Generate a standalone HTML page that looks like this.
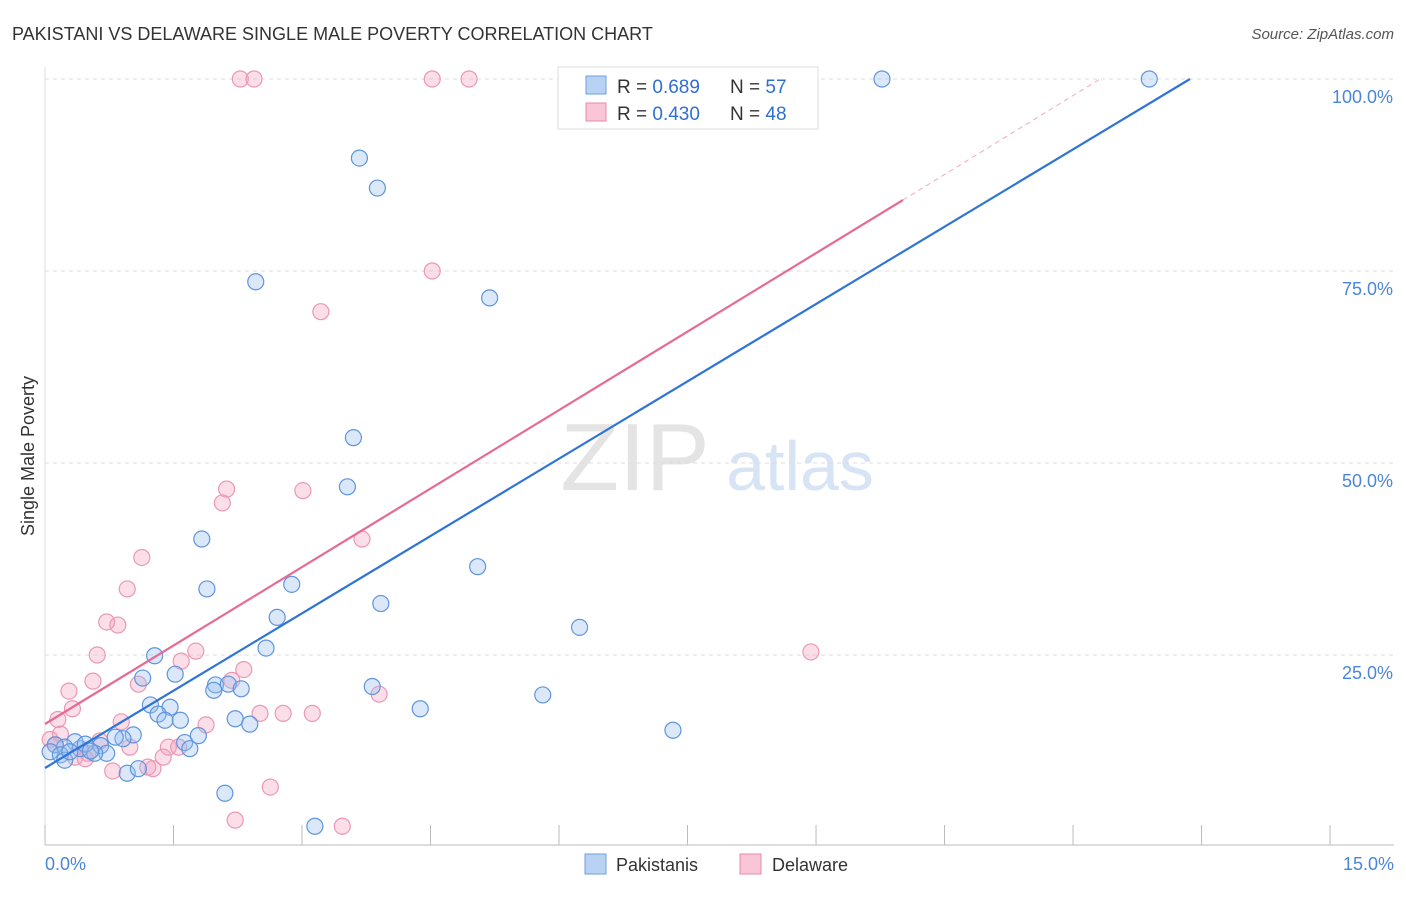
<!DOCTYPE html>
<html><head><meta charset="utf-8">
<style>
body{margin:0;background:#fff;font-family:"Liberation Sans",sans-serif;}
svg text{font-family:"Liberation Sans",sans-serif;}
</style></head>
<body>
<svg id="chart" width="1406" height="892" xmlns="http://www.w3.org/2000/svg">
<text x="12" y="40" font-size="18" fill="#333">PAKISTANI VS DELAWARE SINGLE MALE POVERTY CORRELATION CHART</text>
<text x="1394" y="39" font-size="15" fill="#555" font-style="italic" text-anchor="end">Source: ZipAtlas.com</text>
<text x="635" y="490" font-size="96" fill="#e4e4e4" font-family="Liberation Serif" text-anchor="middle">ZIP</text>
<text x="800" y="490" font-size="70" fill="#d6e4f5" text-anchor="middle">atlas</text>
<text x="34" y="456" font-size="18" fill="#333" text-anchor="middle" transform="rotate(-90 34 456)">Single Male Poverty</text>
<g id="grid"></g><g id="axes"></g><g id="pts"></g><g id="lines"></g>
<g>
<rect x="558" y="67" width="260" height="62" fill="#fff" stroke="#ddd"/>
<rect x="586" y="76" width="20" height="18" fill="#b8d2f4" stroke="#6fa0de"/>
<rect x="586" y="103" width="20" height="18" fill="#f8c6d6" stroke="#e98aa8"/>
<text x="617" y="93" font-size="19" fill="#333">R = <tspan fill="#2f6fd1">0.689</tspan></text>
<text x="730" y="93" font-size="19" fill="#333">N = <tspan fill="#2f6fd1">57</tspan></text>
<text x="617" y="120" font-size="19" fill="#333">R = <tspan fill="#2f6fd1">0.430</tspan></text>
<text x="730" y="120" font-size="19" fill="#333">N = <tspan fill="#2f6fd1">48</tspan></text>
</g>
<g>
<rect x="585" y="854" width="21" height="20" fill="#b8d2f4" stroke="#6fa0de"/>
<text x="616" y="871" font-size="18" fill="#333">Pakistanis</text>
<rect x="740" y="854" width="21" height="20" fill="#f8c6d6" stroke="#e98aa8"/>
<text x="772" y="871" font-size="18" fill="#333">Delaware</text>
</g>
</svg>
<script>
const xTickValues=[0,1.5,3,4.5,6,7.5,9,10.5,12,13.5,15];
const yTickValues=[25,50,75,100];
const yTickLabels=["25.0%","50.0%","75.0%","100.0%"];
const pakX=[9.77,12.89,3.67,3.88,2.46,5.19,3.6,3.53,5.05,1.83,1.89,2.88,3.92,2.71,6.24,2.58,1.28,1.14,1.52,3.82,1.99,2.14,2.29,1.97,5.81,1.23,1.46,1.32,1.4,1.58,2.22,2.39,4.38,7.33,1.03,1.79,1.63,1.69,0.91,0.82,0.65,0.72,0.58,0.41,0.35,0.23,0.12,0.06,0.18,0.23,0.29,0.96,1.09,2.1,3.15,0.47,0.53];
const pakY=[100,100,89.7,85.8,73.6,71.5,53.3,46.9,36.5,40.1,33.6,34.2,31.7,29.9,28.6,25.9,24.9,22.0,22.5,20.9,21.1,21.2,20.6,20.4,19.8,18.5,18.2,17.3,16.5,16.5,16.7,16.0,18.0,15.2,14.6,14.5,13.6,12.8,14.1,14.3,13.2,12.2,12.2,12.8,13.7,13.0,13.3,12.4,12.0,11.3,12.4,9.6,10.2,7.0,2.7,13.4,12.5];
const delX=[2.28,2.44,4.52,4.95,4.52,3.22,2.12,2.07,3.01,3.7,1.13,0.96,0.72,0.85,0.61,1.76,1.59,0.28,0.56,1.09,2.32,2.18,3.9,8.94,0.32,0.15,0.89,1.88,2.51,2.78,3.12,1.44,1.56,1.38,1.2,1.26,0.79,0.5,0.06,0.12,0.64,2.63,2.22,3.47,0.18,0.35,0.47,0.99];
const delY=[100,100,100,100,75,69.7,46.6,44.8,46.4,40.1,37.7,33.6,29.3,28.9,25.0,25.5,24.2,20.3,21.6,21.2,23.1,21.7,19.9,25.4,18.0,16.6,16.3,15.9,17.4,17.4,17.4,13.0,13.0,11.7,10.4,10.2,9.9,12.2,14.0,13.3,13.8,7.8,3.5,2.7,14.7,11.7,11.5,13.0];
const NS="http://www.w3.org/2000/svg";
const xs=v=>45+v*85.67, ys=v=>847-v*7.68;
function mk(tag,attrs,parent){const e=document.createElementNS(NS,tag);for(const k in attrs)e.setAttribute(k,attrs[k]);document.getElementById(parent).appendChild(e);return e;}
yTickValues.forEach((v,i)=>{
 const g=mk('line',{x1:45,x2:1394,y1:ys(v),y2:ys(v),stroke:'#ddd','stroke-dasharray':'4,4'},'grid');
 
 
 const t=mk('text',{x:1393,y:ys(v)+24,'font-size':18,fill:'#4a86d8','text-anchor':'end'},'axes');
 t.textContent=yTickLabels[i];
 
 
});
const ax=mk('line',{x1:45,x2:1394,y1:845,y2:845,stroke:'#bbb'},'axes');


const ay=mk('line',{x1:45,x2:45,y1:67,y2:845,stroke:'#ddd'},'axes');


xTickValues.forEach(v=>{
 const l=mk('line',{x1:xs(v),x2:xs(v),y1:825,y2:845,stroke:'#bbb'},'axes');
 
 
});
[["0.0%",45,'start'],["15.0%",1394,'end']].forEach(a=>{
 const t=mk('text',{x:a[1],y:870,'font-size':18,fill:'#4a86d8','text-anchor':a[2]},'axes');
 t.textContent=a[0];
 
 
});
delX.forEach((x,i)=>{
 const c=mk('circle',{cx:xs(x),cy:ys(delY[i]),r:8,fill:'rgba(244,160,188,0.35)',stroke:'#eb98b4','stroke-width':1.2},'pts');
 
 
});
pakX.forEach((x,i)=>{
 const c=mk('circle',{cx:xs(x),cy:ys(pakY[i]),r:8,fill:'rgba(150,190,240,0.35)',stroke:'#5f95dc','stroke-width':1.2},'pts');
 
 
});
const bl=mk('line',{x1:45,y1:768,x2:1190,y2:79,stroke:'#2f74d6','stroke-width':2.2},'lines');


const pl=mk('line',{x1:45,y1:724,x2:903,y2:200,stroke:'#e66a94','stroke-width':2.2},'lines');


const pd=mk('line',{x1:903,y1:200,x2:1100,y2:79,stroke:'#f0a8c0','stroke-width':1,'stroke-dasharray':'5,4'},'lines');


</script>
</body></html>
